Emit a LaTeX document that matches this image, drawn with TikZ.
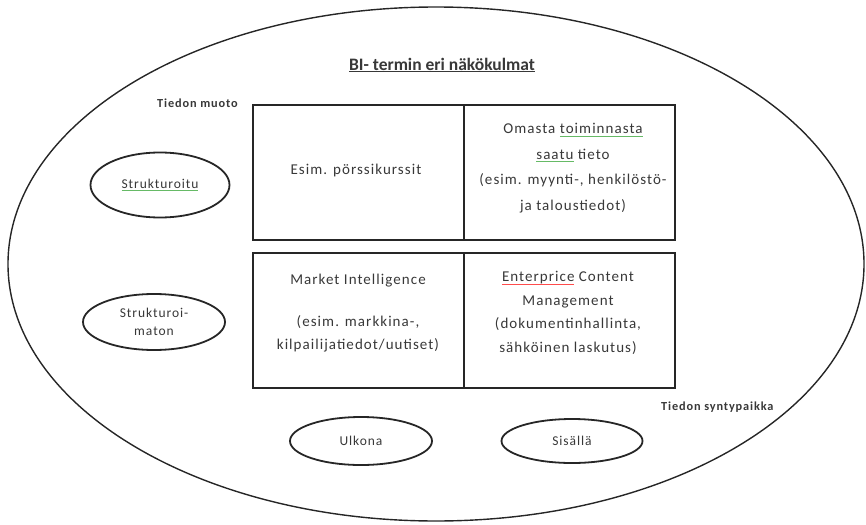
\documentclass[tikz,border=0pt]{standalone}
\usepackage{fontspec}
\setmainfont{Carlito}
\newfontfamily\wfont{Carlito}[LetterSpace=7]
\usetikzlibrary{shapes.geometric}
\definecolor{txt}{HTML}{383838}
\newcommand\ulg[1]{\setbox0\hbox{#1}\rlap{\color{green!55!black!60}\rule[-2.5pt]{\wd0}{0.6pt}}\box0\relax}
\newcommand\ulr[1]{\setbox0\hbox{#1}\rlap{\color{red!70}\rule[-2.5pt]{\wd0}{0.6pt}}\box0\relax}
\tikzset{
  every node/.style={text=txt, font=\wfont\fontsize{15}{24}\selectfont},
  cell/.style={draw=black!85, line width=1.8pt, minimum width=211pt, minimum height=135pt, inner sep=0pt},
  oval/.style={draw=black!85, ellipse, line width=1.8pt, inner sep=0pt},
  lbl/.style={font=\wfont\fontsize{12.3}{13}\selectfont\bfseries, inner sep=0pt},
  ctext/.style={align=center, inner sep=0pt}
}
\begin{document}
\begin{tikzpicture}[x=1pt,y=-1pt]
\useasboundingbox (0,0) rectangle (866,524);
\node[draw=black!85, line width=1.4pt, ellipse, minimum width=856pt, minimum height=514pt, inner sep=0pt] (outer) at (436,264) {};
\node[font=\rmfamily\fontsize{17.5}{19}\selectfont\bfseries, inner sep=0pt] (title) at (442,65) {\underline{BI- termin eri näkökulmat}};
\node[lbl, anchor=west] (muoto) at (157,103) {Tiedon muoto};
\node[lbl, anchor=west] (synty) at (661,407) {Tiedon syntypaikka};
% grid
\node[cell] (c11) at (358.5,172.5) {};
\node[cell] (c12) at (569.5,172.5) {};
\node[cell] (c21) at (358.5,320.5) {};
\node[cell] (c22) at (569.5,320.5) {};
% texts
\node[ctext] (t11) at (356,171) {Esim. pörssikurssit};
\node[ctext, font=\wfont\fontsize{15}{25.5}\selectfont] (t12) at (573,168) {Omasta \ulg{toiminnasta}\\\ulg{saatu} tieto\\(esim. myynti-, henkilöstö-\\ja taloustiedot)};
\node[ctext] (t21a) at (358,281) {Market Intelligence};
\node[ctext, font=\wfont\fontsize{15}{23}\selectfont] (t21b) at (358,334) {(esim. markkina-,\\kilpailijatiedot/uutiset)};
\node[ctext, font=\wfont\fontsize{15}{23.5}\selectfont] (t22) at (568,313) {\ulr{Enterprice} Content\\Management\\(dokumentinhallinta,\\sähköinen laskutus)};
% ovals
\node[oval, minimum width=139pt, minimum height=65pt, font=\wfont\fontsize{13.5}{17}\selectfont] (s1) at (160,185) {\ulg{Strukturoitu}};
\node[oval, minimum width=142pt, minimum height=56pt, align=center, font=\wfont\fontsize{13.5}{18}\selectfont] (s2) at (154,322) {Strukturoi-\\maton};
\node[oval, minimum width=142pt, minimum height=48pt, font=\wfont\fontsize{13.5}{15}\selectfont] (u) at (361,441) {Ulkona};
\node[oval, minimum width=141pt, minimum height=44pt, font=\wfont\fontsize{13.5}{15}\selectfont] (si) at (572,441) {Sisällä};
\end{tikzpicture}
\end{document}
